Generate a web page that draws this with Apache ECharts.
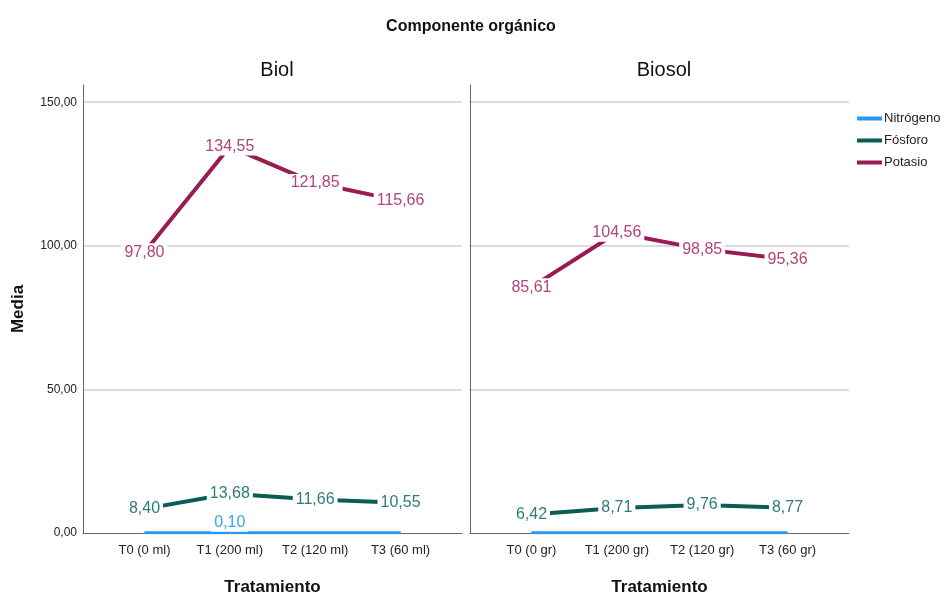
<!DOCTYPE html>
<html lang="es">
<head>
    <meta charset="UTF-8">
    <title>Componente orgánico</title>
    <script type="text/javascript" src="https://cdn.jsdelivr.net/npm/echarts@6/dist/echarts.min.js"></script>
    <style>
        body { margin: 0; background: #fff; }
    </style>
</head>
<body>
<div id="main" style="width: 946px; height: 599px;"></div>
<script type="text/javascript">
    var biolCats = ['T0 (0 ml)', 'T1 (200 ml)', 'T2 (120 ml)', 'T3 (60 ml)'];
    var biosolCats = ['T0 (0 gr)', 'T1 (200 gr)', 'T2 (120 gr)', 'T3 (60 gr)'];
    var yTicks = [0, 50, 100, 150];

    var biolNitrogeno = [0.10, 0.10, 0.10, 0.10];
    var biolFosforo = [8.40, 13.68, 11.66, 10.55];
    var biolPotasio = [97.80, 134.55, 121.85, 115.66];

    var biosolNitrogeno = [0.10, 0.10, 0.10, 0.10];
    var biosolFosforo = [6.42, 8.71, 9.76, 8.77];
    var biosolPotasio = [85.61, 104.56, 98.85, 95.36];

    var font = 'Liberation Sans, Arial, sans-serif';
    var colN = '#2b97ec', colF = '#0b5d54', colP = '#9a1b53';
    var labN = '#3ea3ef', labF = '#2e7c76', labP = '#b0467b';

    function fmt(v) {
        return v.toFixed(2).replace('.', ',');
    }

    // points as [index, value]; optional list of indexes that get a label
    function pts(arr, labelled) {
        return arr.map(function (v, i) {
            var item = { value: [i, v] };
            if (labelled) {
                item.label = { show: labelled.indexOf(i) >= 0 };
            }
            return item;
        });
    }

    function lineSeries(name, idx, data, color, labColor, width, labelOpt) {
        return {
            name: name,
            type: 'line',
            xAxisIndex: idx,
            yAxisIndex: idx,
            data: data,
            symbol: 'circle',
            symbolSize: 1,
            lineStyle: { color: color, width: width },
            itemStyle: { color: color },
            label: Object.assign({
                show: true,
                position: 'inside',
                color: labColor,
                fontFamily: font,
                fontSize: 16,
                backgroundColor: '#fff',
                padding: [1, 3],
                formatter: function (p) { return fmt(p.value[1]); }
            }, labelOpt || {}),
            emphasis: { disabled: true },
            animation: false
        };
    }

    function xAxis(idx, cats) {
        return {
            type: 'value',
            gridIndex: idx,
            min: -0.72,
            max: 3.72,
            name: 'Tratamiento',
            nameLocation: 'middle',
            nameGap: 46,
            nameTextStyle: { fontFamily: font, fontSize: 17, fontWeight: 'bold', color: '#111' },
            axisLine: { show: true, onZero: false, lineStyle: { color: '#666', width: 1 } },
            axisTick: { show: false },
            splitLine: { show: false },
            axisLabel: {
                customValues: [0, 1, 2, 3],
                margin: 11,
                fontFamily: font,
                fontSize: 13,
                color: '#222',
                formatter: function (v) { return cats[Math.round(v)]; }
            }
        };
    }

    function yAxis(idx, showLabels) {
        return {
            type: 'value',
            gridIndex: idx,
            min: 0,
            max: 156,
            interval: 50,
            name: showLabels ? 'Media' : '',
            nameLocation: 'middle',
            nameGap: 56,
            nameTextStyle: { fontFamily: font, fontSize: 17, fontWeight: 'bold', color: '#111' },
            axisLine: { show: true, onZero: false, lineStyle: { color: '#666', width: 1 } },
            axisTick: { show: false },
            splitLine: { show: true, showMinLine: false, showMaxLine: false, lineStyle: { color: '#cfcfcf', width: 1.5 } },
            axisLabel: {
                show: showLabels,
                showMaxLabel: false,
                margin: 6,
                fontFamily: font,
                fontSize: 12,
                color: '#222',
                formatter: function (v) { return yTicks.indexOf(v) >= 0 ? fmt(v) : ''; }
            }
        };
    }

    var myChart = echarts.init(document.getElementById('main'));
    var option = {
        backgroundColor: '#fff',
        animation: false,
        title: [
            { text: 'Componente orgánico', left: 466, top: 14, textAlign: 'center',
              textStyle: { fontFamily: font, fontSize: 16, fontWeight: 'bold', color: '#111' } },
            { text: 'Biol', left: 272, top: 55, textAlign: 'center',
              textStyle: { fontFamily: font, fontSize: 20, fontWeight: 'normal', color: '#111' } },
            { text: 'Biosol', left: 659, top: 55, textAlign: 'center',
              textStyle: { fontFamily: font, fontSize: 20, fontWeight: 'normal', color: '#111' } }
        ],
        legend: {
            orient: 'vertical',
            left: 852,
            top: 107,
            itemWidth: 25,
            itemHeight: 4,
            itemGap: 9,
            icon: 'rect',
            textStyle: { fontFamily: font, fontSize: 13, color: '#222', padding: [0, 0, 0, -3] },
            data: [
                { name: 'Nitrógeno', itemStyle: { color: colN } },
                { name: 'Fósforo', itemStyle: { color: colF } },
                { name: 'Potasio', itemStyle: { color: colP } }
            ]
        },
        grid: [
            { left: 83, top: 85, width: 379, height: 448, outerBoundsMode: 'none' },
            { left: 470, top: 85, width: 379, height: 448, outerBoundsMode: 'none' }
        ],
        xAxis: [xAxis(0, biolCats), xAxis(1, biosolCats)],
        yAxis: [yAxis(0, true), yAxis(1, false)],
        series: [
            lineSeries('Nitrógeno', 0, pts(biolNitrogeno, [1]), colN, labN, 3, { offset: [0, -10] }),
            lineSeries('Fósforo', 0, pts(biolFosforo), colF, labF, 4),
            lineSeries('Potasio', 0, pts(biolPotasio), colP, labP, 4),
            lineSeries('Nitrógeno', 1, pts(biosolNitrogeno, []), colN, labN, 3),
            lineSeries('Fósforo', 1, pts(biosolFosforo), colF, labF, 4),
            lineSeries('Potasio', 1, pts(biosolPotasio), colP, labP, 4)
        ]
    };
    myChart.setOption(option);
</script>
</body>
</html>
